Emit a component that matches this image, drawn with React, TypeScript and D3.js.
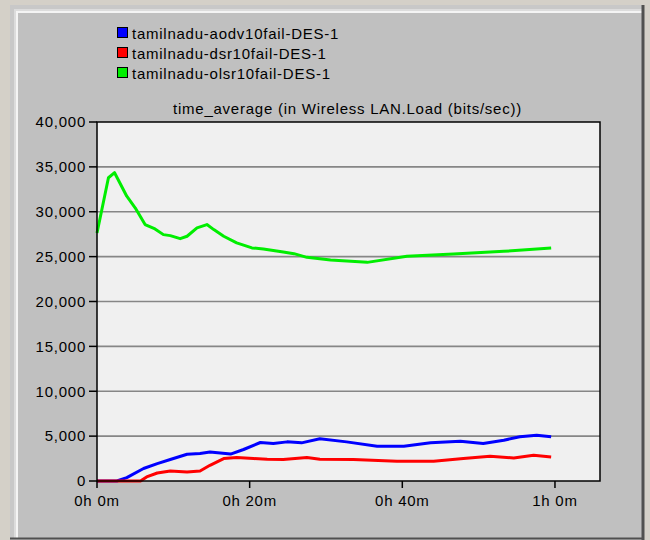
import * as d3 from "d3";

// minutes of simulated time and load in bits/sec
const aodvTimes = [0, 2.6, 3.9, 6.1, 7.9, 9.6, 11.8, 13.5, 14.8, 17.5, 19.2, 21.4, 23.1, 24.9, 26.8, 29.2, 32.7, 36.7, 40.2, 43.7, 47.6, 50.6, 53.3, 55.4, 57.6, 59.5];
const aodvValues = [0, 0, 380, 1390, 1940, 2390, 2980, 3060, 3240, 3000, 3510, 4290, 4180, 4360, 4250, 4700, 4360, 3880, 3880, 4250, 4440, 4180, 4550, 4920, 5110, 4920];

const dsrTimes = [0, 5.7, 6.5, 7.9, 9.6, 11.8, 13.5, 14.8, 16.6, 18.3, 20.5, 22.3, 24.4, 27.5, 29.2, 33.6, 39.3, 44.1, 48, 51.5, 54.6, 57.2, 59.5];
const dsrValues = [0, 0, 450, 890, 1120, 1010, 1120, 1750, 2500, 2610, 2500, 2420, 2390, 2610, 2420, 2390, 2200, 2200, 2500, 2760, 2570, 2870, 2680];

const olsrTimes = [0, 1.5, 2.3, 3.9, 5.0, 6.3, 7.6, 8.7, 9.6, 10.9, 11.8, 13.1, 14.4, 15.3, 16.6, 18.3, 20.3, 21.8, 24.4, 25.8, 27.5, 30.6, 35.4, 40.6, 46.7, 53.3, 59.5];
const olsrValues = [27640, 33790, 34350, 31730, 30440, 28570, 28090, 27450, 27340, 27000, 27270, 28200, 28570, 28010, 27270, 26530, 25970, 25850, 25520, 25330, 24920, 24620, 24360, 25030, 25300, 25590, 25970];

const seriesNames = ["tamilnadu-aodv10fail-DES-1", "tamilnadu-dsr10fail-DES-1", "tamilnadu-olsr10fail-DES-1"];
const seriesColors = ["#0000ff", "#ff0000", "#00ee00"];
const yTicks = [0, 5000, 10000, 15000, 20000, 25000, 30000, 35000, 40000];
const xTicks = [0, 20, 40, 60];
const xTickLabels = ["0h 0m", "0h 20m", "0h 40m", "1h 0m"];
const title = "time_average (in Wireless LAN.Load (bits/sec))";

const font = "'Liberation Sans', Arial, sans-serif";

export default function App() {
  const left = 97, right = 600, top = 122, bottom = 481;
  const x = d3.scaleLinear().domain([0, 65.9]).range([left, right]);
  const y = d3.scaleLinear().domain([0, 40000]).range([bottom, top]);
  const line = d3
    .line<[number, number]>()
    .x((d) => x(d[0]))
    .y((d) => y(d[1]));

  const series = [
    d3.zip(aodvTimes, aodvValues),
    d3.zip(dsrTimes, dsrValues),
    d3.zip(olsrTimes, olsrValues),
  ] as [number, number][][];

  return (
    <svg
      width={650}
      height={540}
      style={{ position: "absolute", left: 0, top: 0 }}
      fontFamily={font}
      fontSize={15}
      letterSpacing={0.75}
    >
      {/* window frame */}
      <rect x={0} y={0} width={650} height={540} fill="#d4d0c8" />
      <rect x={10} y={5} width={634} height={535} fill="#c8c8c8" />
      <rect x={14} y={9} width={628} height={529} fill="#dcdcdc" />
      <rect x={16} y={11} width={626} height={527} fill="#f4f4f4" />
      <rect x={18} y={13} width={624} height={525} fill="#c0c0c0" />
      <line x1={643} x2={643} y1={5} y2={540} stroke="#505050" strokeWidth={3} />
      <line x1={10} x2={644} y1={538.5} y2={538.5} stroke="#505050" strokeWidth={2} />

      {/* legend */}
      {seriesNames.map((name, i) => (
        <g key={name} transform={`translate(117,${33 + i * 20})`}>
          <rect x={0.5} y={-5.5} width={10} height={10} fill={seriesColors[i]} stroke="#000" />
          <text x={15} y={5.5} fill="#000">
            {name}
          </text>
        </g>
      ))}

      <text x={(169 + 526) / 2} y={114} textAnchor="middle" fill="#000">
        {title}
      </text>

      {/* plot area */}
      <rect x={left} y={top} width={right - left} height={bottom - top} fill="#f0f0f0" />
      {yTicks.slice(1, -1).map((t) => (
        <line key={t} x1={left} x2={right} y1={y(t)} y2={y(t)} stroke="#868686" strokeWidth={1.6} />
      ))}

      {series.map((pts, i) => (
        <path
          key={i}
          d={line(pts) ?? ""}
          fill="none"
          stroke={seriesColors[i]}
          strokeWidth={3}
          strokeLinejoin="round"
        />
      ))}

      <rect
        x={left}
        y={top}
        width={right - left}
        height={bottom - top}
        fill="none"
        stroke="#000"
        strokeWidth={1.5}
      />

      {/* y axis */}
      {yTicks.map((t) => (
        <g key={t} transform={`translate(0,${y(t)})`}>
          <line x1={89} x2={left} stroke="#000" strokeWidth={1.5} />
          <text x={86} dy="0.35em" textAnchor="end" fill="#000">
            {d3.format(",")(t)}
          </text>
        </g>
      ))}

      {/* x axis */}
      {xTicks.map((t, i) => (
        <g key={t} transform={`translate(${x(t)},0)`}>
          <line y1={bottom} y2={bottom + 7} stroke="#000" strokeWidth={1.5} />
          <text y={506} textAnchor="middle" fill="#000">
            {xTickLabels[i]}
          </text>
        </g>
      ))}
    </svg>
  );
}
